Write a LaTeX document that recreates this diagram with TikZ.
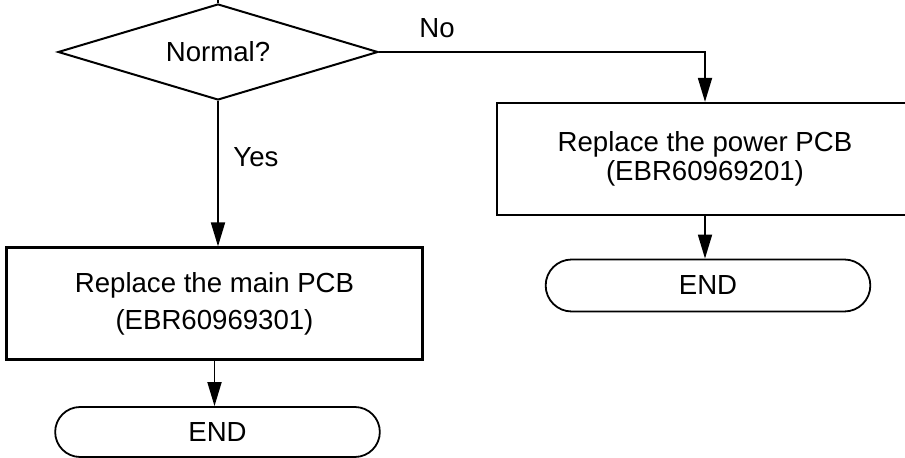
\documentclass[tikz,border=0pt]{standalone}
\usepackage{fontspec}
\setmainfont{Liberation Sans}
\usetikzlibrary{positioning, shapes.geometric, shapes.misc, arrows.meta}

\begin{document}
\begin{tikzpicture}[
    x=0.5pt, y=-0.5pt,
    decision/.style={
        draw,
        diamond,
        aspect=3.33,
        minimum width=160pt,
        minimum height=48pt,
        inner sep=0pt,
        line width=1pt,
        font=\fontsize{13.8}{16}\selectfont
    },
    procbox/.style={
        draw,
        rectangle,
        minimum width=208pt,
        minimum height=56pt,
        align=center,
        line width=1.1pt,
        font=\fontsize{13.8}{18.5}\selectfont
    },
    endbox/.style={
        draw,
        rounded rectangle,
        minimum width=169pt,
        minimum height=26pt,
        line width=0.9pt,
        font=\fontsize{13.8}{16}\selectfont
    },
    lbl/.style={
        inner sep=0pt,
        font=\fontsize{13.8}{16}\selectfont
    },
    flow/.style={
        -{Triangle[length=12pt, width=7pt]},
        line width=0.9pt
    }
]
\useasboundingbox (0,0) rectangle (905,458);

% Decision
\coordinate (entry) at (218,0);
\node[decision] (check) at (218,52) {Normal?};

% No branch
\node[procbox, font=\fontsize{13.8}{14.8}\selectfont] (powerpcb) at (705,159) {Replace the power PCB\\(EBR60969201)};
\node[endbox] (powerend) at (708,285.5) {END};

% Yes branch
\node[procbox] (mainpcb) at (214.5,303.5) {Replace the main PCB\\(EBR60969301)};
\node[endbox, minimum height=25pt] (mainend) at (217.5,432) {END};

% Labels
\node[lbl] (no) at (437,28) {No};
\node[lbl] (yes) at (256,157) {Yes};

% Connections
\draw[line width=0.9pt] (entry) -- (check.north);
\draw[flow] (check.east) -| (powerpcb.north);
\draw[flow] (check.south) -- (check.south |- mainpcb.north);
\draw[flow] (powerpcb.south) -- (powerpcb.south |- powerend.north);
\draw[flow] (mainpcb.south) -- (mainpcb.south |- mainend.north);

\end{tikzpicture}
\end{document}
